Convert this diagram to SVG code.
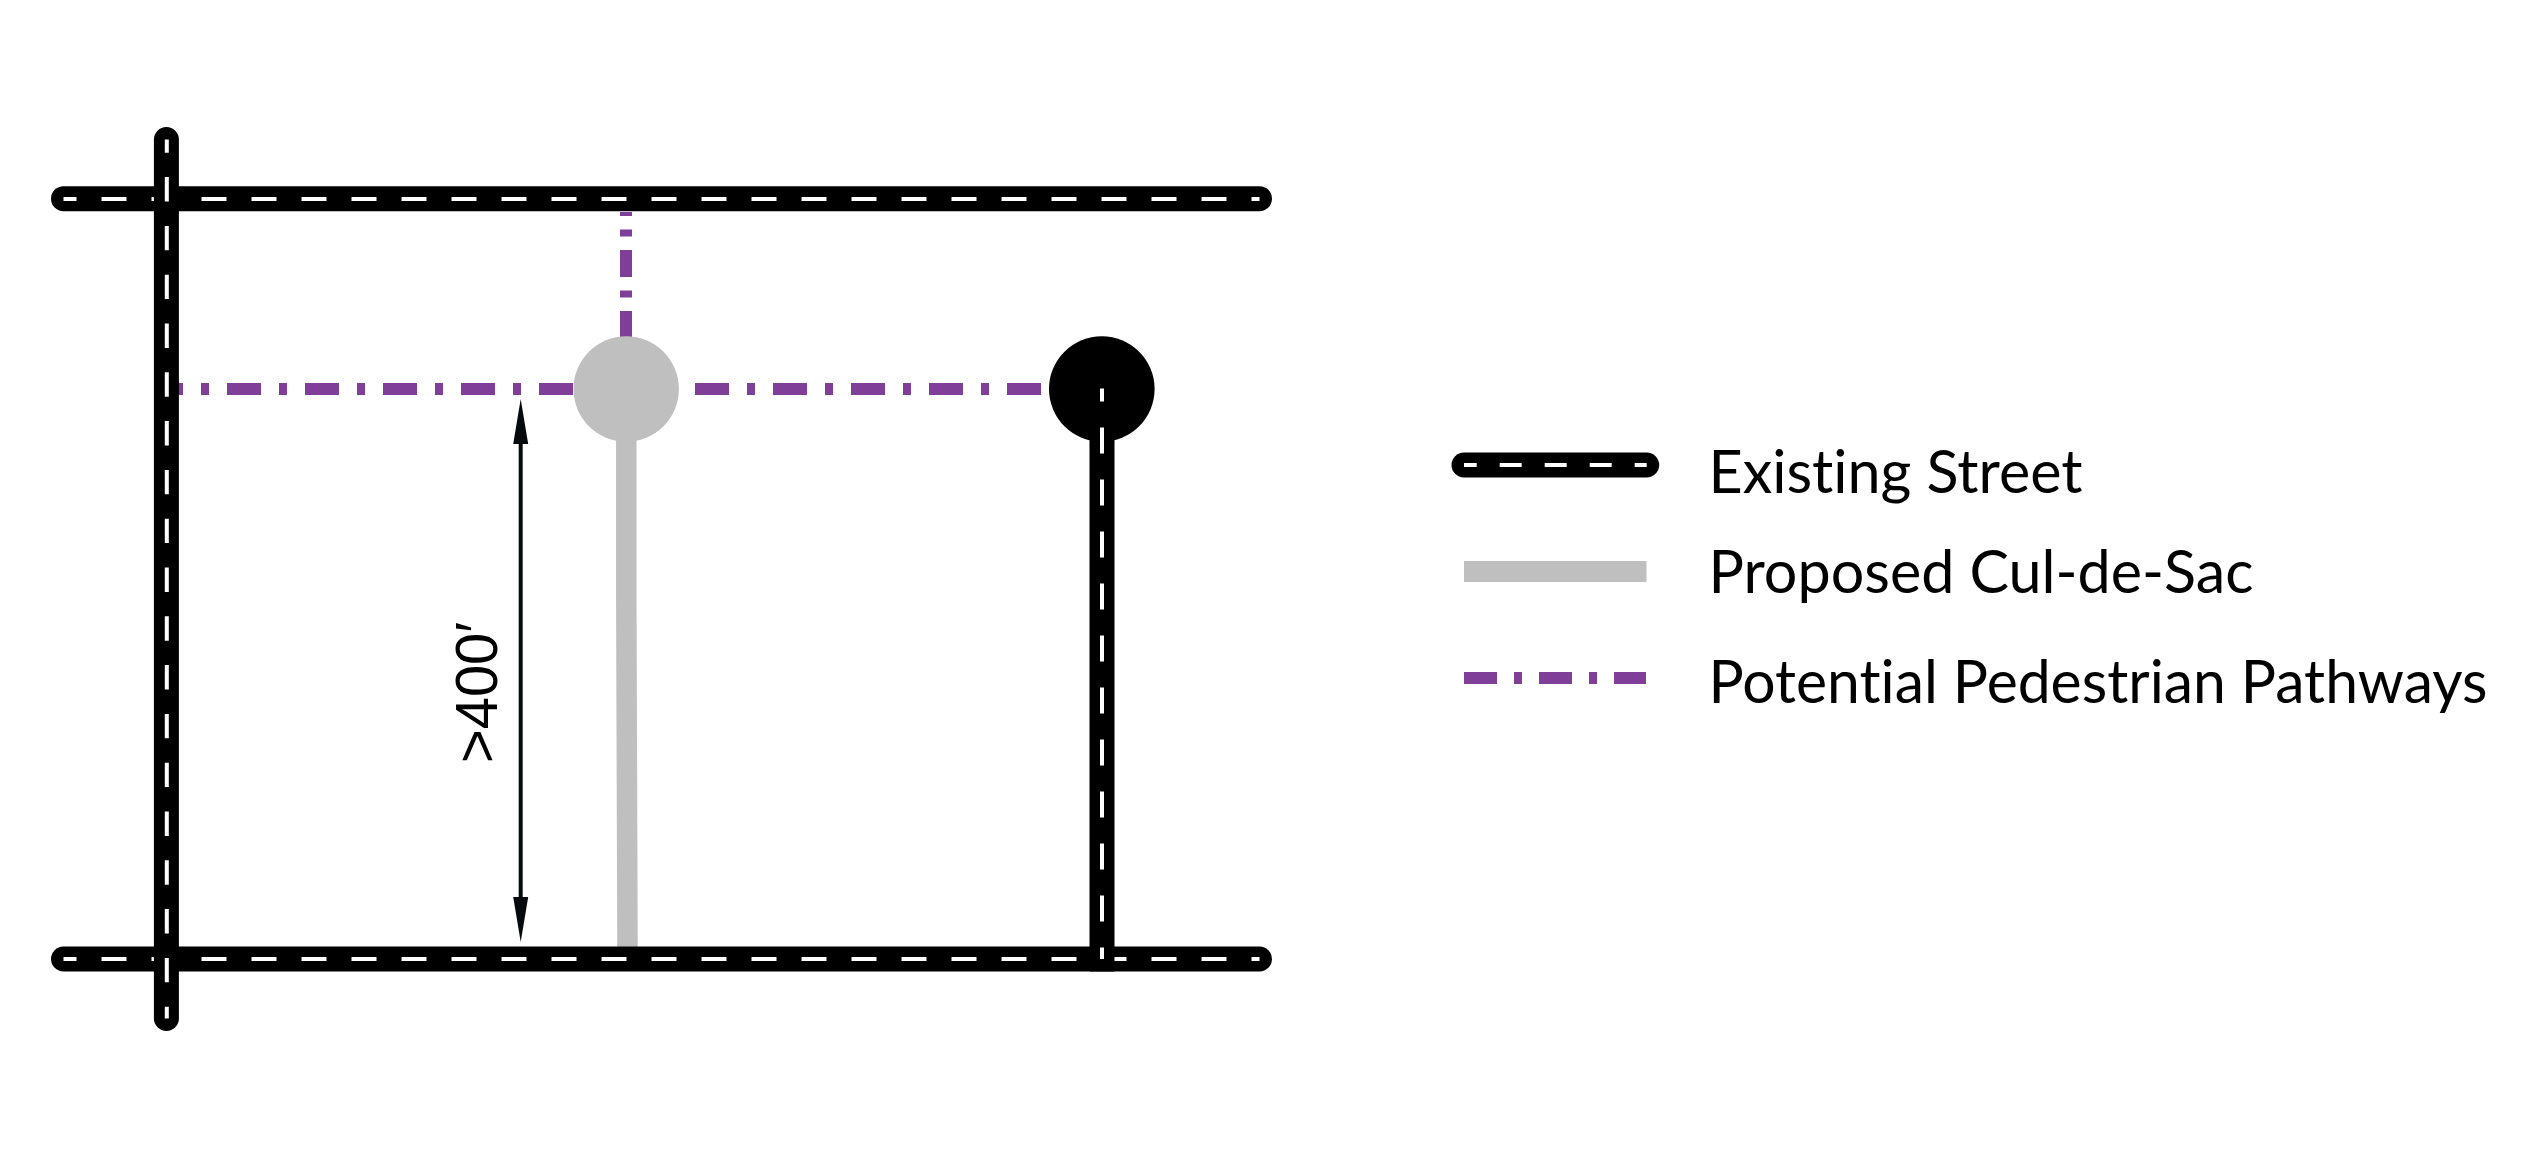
<svg xmlns="http://www.w3.org/2000/svg" width="2546" height="1158" viewBox="0 0 2546 1158">
<defs><style>
.st{fill:none;stroke:#000;stroke-width:25;stroke-linecap:round}
.dh{fill:none;stroke:#fff;stroke-width:4;stroke-dasharray:25 25;stroke-dashoffset:12}
.dv{fill:none;stroke:#fff;stroke-width:4;stroke-dasharray:24.4 24.4;stroke-dashoffset:11.2}
.ped{fill:none;stroke:#7f3f98;stroke-width:12}
.cul{fill:none;stroke:#bfbfbf;stroke-width:20.5}
.lbl{font-family:"Lato","Open Sans",sans-serif;font-size:60px;fill:#000;font-variant-ligatures:none}
</style></defs>
<g id="connectors">
<path class="ped" d="M178 389H1050" stroke-dasharray="34 18 8 18" stroke-dashoffset="29"/>
<path class="ped" d="M626 212V340" stroke-dasharray="27 13.5 7 13.5" stroke-dashoffset="23"/>
<path class="cul" d="M626.3 430V600L627.5 947"/>
<g id="dim"><path d="M520.7 440V900" stroke="#060a0c" stroke-width="4" fill="none"/><path d="M520.7 399l-7.5 45h15zM520.7 942l-7.5-45h15z" fill="#060a0c"/></g>
</g>
<g id="street-top"><path class="st" d="M63.5 198.7H1259.5"/><path class="dh" d="M63.5 199H1259.5"/></g>
<g id="street-bottom"><path class="st" d="M63.5 959H1259.5"/><path class="dh" d="M63.5 959H1259.5"/></g>
<g id="street-left"><path class="st" d="M166.4 139.5V1018.5"/><path class="dv" d="M166.8 139.5V1018.5"/></g>
<g id="street-right"><circle cx="1101.8" cy="389" r="52.8"/><path d="M1102 389V971.5" stroke="#000" stroke-width="25" fill="none"/><path d="M1102 388.5V959" fill="none" stroke="#fff" stroke-width="4" stroke-dasharray="26 26" stroke-dashoffset="13"/></g>
<g id="culdesac"><circle cx="626.2" cy="389" r="52.7" fill="#bfbfbf"/></g>
<text transform="translate(497 763) rotate(-90)" font-family="'Liberation Sans',sans-serif" font-size="60" textLength="141" lengthAdjust="spacingAndGlyphs">&gt;400′</text>
<g id="legend-street"><path class="st" d="M1464 465H1646.7"/><path d="M1464 465H1646.7" fill="none" stroke="#fff" stroke-width="4" stroke-dasharray="22 23" stroke-dashoffset="9.3"/><text class="lbl" x="1708.5" y="493" textLength="374" lengthAdjust="spacingAndGlyphs">Existing Street</text></g>
<g id="legend-cul"><path d="M1464 571.5H1646.5" stroke="#bfbfbf" stroke-width="21"/><text class="lbl" x="1708.5" y="593" textLength="545" lengthAdjust="spacingAndGlyphs">Proposed Cul-de-Sac</text></g>
<g id="legend-ped"><path class="ped" d="M1464 678H1646" stroke-dasharray="33 17 8 17"/><text class="lbl" x="1708.5" y="703" textLength="779" lengthAdjust="spacingAndGlyphs">Potential Pedestrian Pathways</text></g>
</svg>
